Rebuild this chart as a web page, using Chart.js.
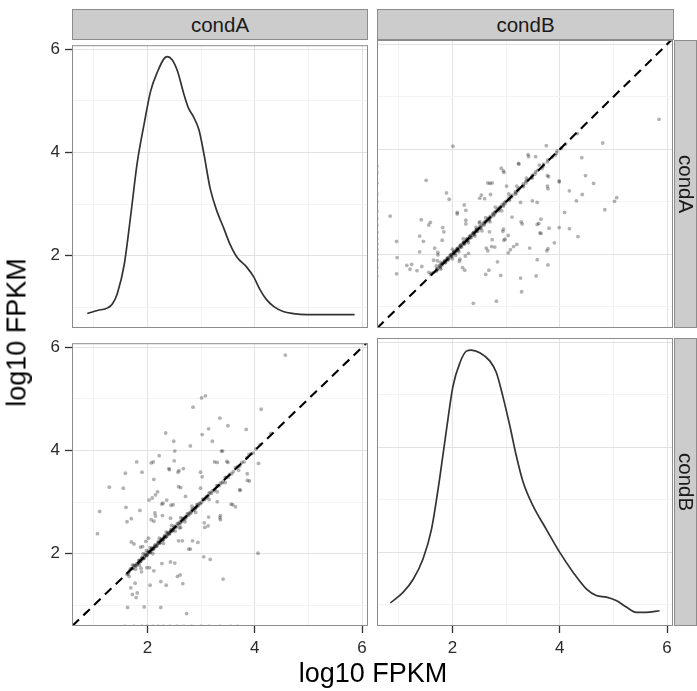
<!DOCTYPE html>
<html><head><meta charset="utf-8">
<script src="https://cdn.jsdelivr.net/npm/chart.js@4.4.1/dist/chart.umd.min.js"></script>
<style>
body{margin:0;width:697px;height:691px;position:relative;overflow:hidden;background:#fff;font-family:"Liberation Sans",Arial,Helvetica,sans-serif;}
canvas{position:absolute;}
.strip{position:absolute;box-sizing:border-box;background:#cccccc;border:1px solid #8c8c8c;color:#1a1a1a;font-size:20.5px;display:flex;align-items:center;justify-content:center;}
.vert{writing-mode:vertical-rl;}
.title{position:absolute;font-size:27px;line-height:27px;height:27px;color:#000;text-align:center;white-space:nowrap;}
</style></head><body>
<canvas id="c11" width="378" height="338" style="left:0px;top:30px"></canvas>
<canvas id="c12" width="378" height="338" style="left:305px;top:30px"></canvas>
<canvas id="c21" width="378" height="338" style="left:0px;top:328px"></canvas>
<canvas id="c22" width="378" height="338" style="left:305px;top:328px"></canvas>
<div class="strip" style="left:72px;top:9px;width:296px;height:31px">condA</div>
<div class="strip" style="left:377px;top:9px;width:297px;height:31px">condB</div>
<div class="strip" style="left:674px;top:40px;width:23px;height:288px"><span class="vert">condA</span></div>
<div class="strip" style="left:674px;top:338px;width:23px;height:288px"><span class="vert">condB</span></div>
<div class="title" style="left:72px;top:660px;width:602px">log10 FPKM</div>
<div class="title" style="left:-276px;top:319px;width:586px;transform:rotate(-90deg)">log10 FPKM</div>
<script>
// ---- data ----
const axisTicks = [1, 2, 3, 4, 5, 6];
const labelTicks = [2, 4, 6];
const xRange = [0.595, 6.11];
const yRange = [0.60, 6.08];
const abline = [0, 7];

// density of condA (top-left panel)
const densAx = [0.88,1.07,1.26,1.35,1.44,1.57,1.69,1.81,1.94,2.06,2.19,2.31,2.37,2.46,2.56,2.68,2.77,2.86,2.96,3.05,3.17,3.30,3.42,3.54,3.67,3.85,3.98,4.10,4.22,4.35,4.53,4.72,4.96,5.46,5.86];
const densAy = [0.88,0.94,0.99,1.07,1.27,1.84,2.79,3.80,4.56,5.19,5.57,5.82,5.86,5.80,5.58,5.13,4.85,4.69,4.44,3.99,3.30,2.85,2.54,2.22,1.97,1.78,1.59,1.34,1.15,1.02,0.92,0.88,0.86,0.86,0.86];

// density of condB (bottom-right panel)
const densBx = [0.845,1.08,1.27,1.45,1.61,1.76,1.89,2.01,2.14,2.26,2.35,2.51,2.70,2.82,2.94,3.07,3.19,3.32,3.50,3.75,4.00,4.25,4.50,4.68,4.87,5.06,5.24,5.43,5.61,5.86];
const densBy = [1.04,1.24,1.49,1.87,2.44,3.39,4.34,5.16,5.61,5.83,5.85,5.80,5.64,5.42,4.97,4.41,3.84,3.33,2.89,2.44,2.00,1.62,1.30,1.18,1.15,1.08,0.96,0.86,0.86,0.89];

// per-gene values (log10 FPKM)
const condA = [
 1.07,1.11,1.29,1.55,1.59,1.60,1.62,1.70,1.80,1.90,1.70,1.75,1.86,1.91,1.97,2.02,2.07,2.11,2.12,2.03,
 2.09,2.15,2.19,2.07,2.12,2.14,2.15,2.22,2.34,2.29,2.36,2.40,2.49,2.51,2.50,2.48,2.59,2.67,2.62,2.71,
 2.80,2.85,3.01,3.08,3.02,3.14,3.21,2.99,3.02,2.99,3.07,3.13,3.06,3.30,3.35,3.38,3.50,3.36,3.36,3.50,
 3.59,3.64,3.73,3.84,3.86,3.90,4.07,4.12,4.57,4.06,3.05,3.17,3.41,2.77,2.84,2.94,2.65,2.80,2.62,2.43,
 2.51,2.56,2.61,2.66,2.27,2.25,2.35,2.12,2.05,2.25,1.94,1.63,2.73,1.88,1.77,1.81,1.72,1.79,1.69,1.66,
 1.72,2.41,2.57,2.27,2.44,2.28,2.43,2.58,3.30,3.14,1.87,2.04,1.99,1.89,3.25,3.40,4.30,3.48,3.86,3.72,
 3.56,3.35,2.58,
 1.62,1.66,1.70,1.73,1.76,1.78,1.80,1.83,1.85,1.87,1.89,1.91,1.93,1.95,1.97,1.99,2.01,2.03,2.05,2.07,
 2.09,2.11,2.13,2.15,2.17,2.19,2.21,2.23,2.25,2.27,2.29,2.31,2.33,2.35,2.37,2.39,2.41,2.43,2.45,2.47,
 2.49,2.52,2.55,2.58,2.61,2.64,2.67,2.70,2.73,2.76,2.79,2.82,2.85,2.88,2.91,2.94,2.97,3.01,3.05,3.09,
 3.13,3.17,3.21,3.26,3.31,3.36,3.41,3.47,3.53,3.60,3.68,3.76,3.85,3.93,4.02,4.10,
 1.64,1.68,1.72,1.75,1.79,1.82,1.84,1.86,1.88,1.90,1.92,1.94,1.96,1.98,2.00,2.02,2.04,2.06,2.08,2.10,
 2.12,2.14,2.16,2.18,2.20,2.22,2.24,2.26,2.28,2.30,2.32,2.34,2.36,2.38,2.40,2.42,2.44,2.46,2.48,2.50,
 2.53,2.56,2.59,2.62,2.65,2.68,2.71,2.74,2.77,2.80,2.83,2.86,2.89,2.92,2.95,2.99,3.03,3.07,3.11,3.15,
 3.19,3.24,3.29,3.34,3.39,3.45,3.51,3.57,3.64,3.72,3.80,3.89,3.97,
 1.98,2.22,2.60,2.30,1.85,2.10,2.45,2.90,3.30,2.70,2.05,1.78,2.52,2.83,3.15,2.35,1.92,2.62,3.45,3.70,
 1.58,1.75,1.90,2.00,2.10,2.20,2.30,2.42,2.55,2.68,2.82,3.00,3.15,3.35,3.55,3.68
];
const condB = [
 2.39,2.82,3.29,3.27,3.56,2.90,2.62,2.68,3.78,3.58,2.23,2.19,2.84,2.14,2.24,2.30,3.76,3.78,3.44,3.04,
 3.08,3.14,3.20,2.66,2.63,2.79,2.73,3.90,4.34,2.98,3.04,3.65,4.18,3.99,3.80,2.95,3.61,3.65,3.28,3.11,
 4.09,4.84,5.02,5.06,4.31,4.42,4.18,3.58,3.49,3.27,2.51,2.54,2.60,3.77,4.63,3.99,4.48,2.74,2.66,3.77,
 2.95,2.91,3.23,4.41,3.55,3.41,3.75,4.80,5.85,2.01,1.94,1.89,1.51,2.09,2.25,2.22,2.25,2.09,2.51,1.84,
 1.82,1.56,1.59,1.42,1.81,1.46,1.39,1.67,1.39,0.96,0.97,0.96,0.84,1.72,1.43,1.24,1.21,1.15,1.34,1.56,
 1.78,3.63,3.58,2.96,2.94,2.74,2.69,3.30,3.01,2.71,2.13,1.73,1.73,1.65,3.78,3.99,4.33,3.79,3.42,3.24,
 2.96,2.70,2.25,
 1.60,1.65,1.71,1.72,1.77,1.76,1.81,1.82,1.87,1.85,1.90,1.92,1.91,1.96,1.98,1.97,2.02,2.04,2.03,2.08,
 2.10,2.09,2.14,2.16,2.15,2.20,2.22,2.21,2.26,2.28,2.27,2.32,2.34,2.33,2.38,2.40,2.39,2.44,2.46,2.45,
 2.50,2.53,2.54,2.59,2.62,2.63,2.68,2.71,2.72,2.77,2.80,2.81,2.86,2.89,2.90,2.95,2.98,3.00,3.06,3.10,
 3.12,3.18,3.22,3.25,3.32,3.37,3.40,3.48,3.54,3.59,3.69,3.77,3.86,3.94,4.03,4.11,
 1.61,1.70,1.71,1.78,1.77,1.80,1.87,1.85,1.86,1.93,1.90,1.92,1.99,1.96,1.98,2.05,2.02,2.04,2.11,2.08,
 2.10,2.17,2.14,2.16,2.23,2.20,2.22,2.29,2.26,2.28,2.35,2.32,2.34,2.41,2.38,2.40,2.47,2.44,2.46,2.53,
 2.51,2.59,2.57,2.60,2.68,2.66,2.69,2.77,2.75,2.78,2.86,2.84,2.87,2.95,2.93,2.97,3.06,3.05,3.09,3.18,
 3.17,3.22,3.32,3.32,3.37,3.48,3.49,3.55,3.67,3.70,3.78,3.92,3.95,
 2.06,2.30,2.50,2.20,1.78,2.00,2.55,2.80,3.20,2.62,2.12,1.70,2.44,2.92,3.05,2.42,2.00,2.70,3.38,3.62,
 0.59,0.59,0.59,0.59,0.59,0.59,0.59,0.59,0.59,0.59,0.59,0.59,0.59,0.59,0.59,0.59
];

// ---- drawing ----
const FONT = '"Liberation Sans", Arial, Helvetica, sans-serif';
const frame = {
  id: 'frame',
  afterDraw(chart) {
    const { ctx, chartArea: a } = chart;
    ctx.save();
    ctx.strokeStyle = '#8c8c8c';
    ctx.lineWidth = 1;
    ctx.strokeRect(a.left + 0.5, a.top + 0.5, a.right - a.left - 1, a.bottom - a.top - 1);
    ctx.restore();
  }
};

function axis(range, showLabels, horizontal) {
  return {
    type: 'linear', min: range[0], max: range[1],
    afterBuildTicks: s => { s.ticks = axisTicks.map(v => ({ value: v })); },
    afterFit: s => { if (horizontal) s.height = 40; else s.width = 72; },
    ticks: {
      display: showLabels, autoSkip: false, maxRotation: 0, padding: 5,
      color: '#2b2b2b', font: { family: FONT, size: 17 },
      callback: v => labelTicks.includes(v) ? String(v) : ''
    },
    grid: {
      color: c => (c.tick && c.tick.value % 2 === 0) ? '#e2e2e2' : '#f3f3f3',
      lineWidth: 1, drawTicks: true, tickLength: 7, tickWidth: 1.3,
      tickColor: c => (showLabels && c.tick && labelTicks.includes(c.tick.value)) ? '#333' : 'rgba(0,0,0,0)'
    },
    border: { display: false }
  };
}

const pts = (xs, ys) => xs.map((x, i) => ({ x: x, y: ys[i] }));
const densityDS = (xs, ys) => ({
  data: pts(xs, ys), showLine: true, pointRadius: 0, borderColor: '#333',
  borderWidth: 1.7, cubicInterpolationMode: 'monotone', clip: 0, fill: false
});
const ablineDS = () => ({
  data: pts(abline, abline), showLine: true, pointRadius: 0, borderColor: '#000',
  borderWidth: 2.1, borderDash: [9, 6], clip: 0, fill: false
});
const scatterDS = (xs, ys) => ({
  data: pts(xs, ys), showLine: false, pointRadius: 1.9, borderWidth: 0,
  pointBorderWidth: 0, backgroundColor: 'rgba(0,0,0,0.3)', pointBackgroundColor: 'rgba(0,0,0,0.3)', clip: 0
});

function makePanel(id, datasets, showX, showY) {
  new Chart(document.getElementById(id), {
    type: 'scatter',
    data: { datasets: datasets },
    options: {
      responsive: false, animation: false, devicePixelRatio: 1, events: [],
      layout: { padding: { top: 10, right: 10, left: 0, bottom: 0 } },
      plugins: { legend: { display: false }, tooltip: { enabled: false } },
      scales: { x: axis(xRange, showX, true), y: axis(yRange, showY, false) }
    },
    plugins: [frame]
  });
}

makePanel('c11', [densityDS(densAx, densAy)], false, true);
makePanel('c12', [ablineDS(), scatterDS(condB, condA)], false, false);
makePanel('c21', [ablineDS(), scatterDS(condA, condB)], true, true);
makePanel('c22', [densityDS(densBx, densBy)], true, false);
</script>
</body></html>
